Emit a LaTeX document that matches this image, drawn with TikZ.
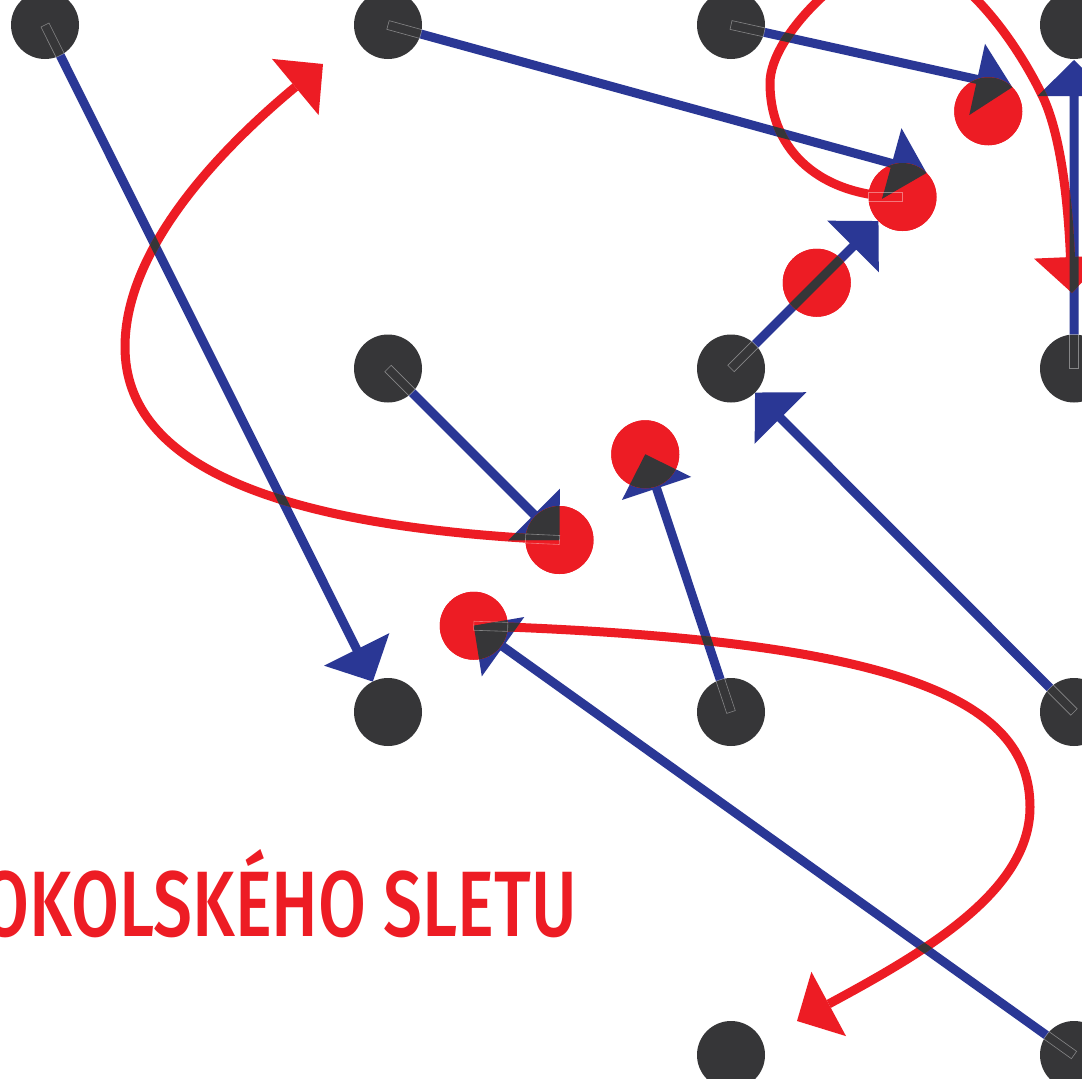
\documentclass[tikz,border=0pt]{standalone}
\usepackage{fontspec}
\usepackage{graphicx}
\usetikzlibrary{calc}
\newfontfamily\titlefont{Fira Sans}[UprightFont={* Medium}]
\definecolor{sblue}{HTML}{2A3795}
\definecolor{sred}{HTML}{ED1C24}
\definecolor{sdark}{HTML}{363638}
% blue arrow as one polygon: name, start, tip
\newcommand\mkarrow[3]{%
  \coordinate (#1-s) at (#2);
  \coordinate (#1-t) at (#3);
  \coordinate (#1-m) at ($(#1-t)!36pt!(#1-s)$);
  \coordinate (#1-a1) at ($(#1-s)!4.5pt!90:(#1-t)$);
  \coordinate (#1-a2) at ($(#1-s)!4.5pt!-90:(#1-t)$);
  \coordinate (#1-m1) at ($(#1-m)!4.5pt!90:(#1-t)$);
  \coordinate (#1-m2) at ($(#1-m)!4.5pt!-90:(#1-t)$);
  \coordinate (#1-b1) at ($(#1-m)!36.5pt!90:(#1-t)$);
  \coordinate (#1-b2) at ($(#1-m)!36.5pt!-90:(#1-t)$);
}
\newcommand\arrowshape[1]{(#1-a1) -- (#1-m1) -- (#1-b1) -- (#1-t) -- (#1-b2) -- (#1-m2) -- (#1-a2) -- cycle}
% red arrow tip: name, last control point, tip
\newcommand\mktip[3]{%
  \coordinate (#1-t) at (#3);
  \coordinate (#1-m) at ($(#1-t)!36pt!(#2)$);
  \coordinate (#1-b1) at ($(#1-m)!36.5pt!90:(#1-t)$);
  \coordinate (#1-b2) at ($(#1-m)!36.5pt!-90:(#1-t)$);
}
\newcommand\tipshape[1]{(#1-b1) -- (#1-t) -- (#1-b2) -- cycle}
\newcommand\curveA{(r5.center) .. controls (280,527) and (125,467) .. (125,347) .. controls (125,247) and (223,147) .. (tA-m)}
\newcommand\curveB{(r6.center) .. controls (894,639.6) and (1030,697) .. (1030,807) .. controls (1030,890) and (929,950) .. (tB-m)}
\newcommand\curveC{(r2.center) .. controls (823,197) and (770,153) .. (770,83) .. controls (770,33) and (857,-45) .. (897,-45) .. controls (947,-45) and (1006.8,23) .. (1042,95) .. controls (1064,140) and (1069,223) .. (tC-m)}
\newcommand\redstuff[1]{%
  \draw[redline,draw=#1] \curveA;
  \draw[redline,draw=#1] \curveB;
  \draw[redline,draw=#1] \curveC;
  \fill[#1] \tipshape{tA};
  \fill[#1] \tipshape{tB};
  \fill[#1] \tipshape{tC};
  \foreach \k in {1,...,6} \fill[#1] (rc\k) circle[radius=34pt];
}
\newcommand\seam[2]{%
  \coordinate (sS) at (#1);
  \coordinate (sE) at ($(sS)!34pt!(#2)$);
  \draw[seamline] ($(sS)!4.5pt!90:(sE)$) -- ($(sE)!4.5pt!-90:(sS)$) -- ($(sE)!4.5pt!90:(sS)$) -- ($(sS)!4.5pt!-90:(sE)$) -- cycle;
}
\begin{document}
\begin{tikzpicture}[x=1pt,y=-1pt,
  darkdot/.style={circle,fill=sdark,minimum size=68pt,inner sep=0pt,outer sep=0pt},
  reddot/.style={circle,fill=sred,minimum size=68pt,inner sep=0pt,outer sep=0pt},
  redline/.style={line width=9pt,line cap=butt},
  seamline/.style={draw=white,draw opacity=0.4,line width=0.6pt},
  title/.style={text=sred,inner sep=0pt,outer sep=0pt,anchor=base west}]
\useasboundingbox (0,0) rectangle (1082,1079);
\fill[white] (0,0) rectangle (1082,1079);
% grid of dark dots
\coordinate (c11) at (45,25);   \coordinate (c12) at (388,25);
\coordinate (c13) at (731,25);  \coordinate (c14) at (1074,25);
\coordinate (c22) at (388,368.5); \coordinate (c23) at (731,368.5);
\coordinate (c24) at (1074,368.5);
\coordinate (c32) at (388,712); \coordinate (c33) at (731,712);
\coordinate (c34) at (1074,712);
\coordinate (c43) at (731,1055); \coordinate (c44) at (1074,1055);
% red dots on the diagonal
\coordinate (rc1) at (988.25,111.25);
\coordinate (rc2) at (902.5,197);
\coordinate (rc3) at (816.75,282.75);
\coordinate (rc4) at (645.25,454.25);
\coordinate (rc5) at (559.5,540);
\coordinate (rc6) at (473.75,625.75);
% blue arrows
\mkarrow{bA}{c11}{$(c32)!34pt!(c11)$}
\mkarrow{bB}{c12}{$(rc2)+(24.04,-24.04)$}
\mkarrow{bC}{c13}{$(rc1)+(24.04,-24.04)$}
\mkarrow{bD}{c24}{1074,60}
\mkarrow{bE}{c23}{$(rc2)+(-24.04,24.04)$}
\mkarrow{bF}{c34}{$(c23)+(24.04,24.04)$}
\mkarrow{bG}{c22}{rc5}
\mkarrow{bH}{c33}{rc4}
\mkarrow{bI}{c44}{rc6}
% red tips
\mktip{tA}{223,147}{323,64}
\mktip{tB}{929,950}{797,1021}
\mktip{tC}{1069,223}{1072,293}
% draw blue
\foreach \b in {bA,bB,bC,bD,bE,bF,bG,bH,bI} \fill[sblue] \arrowshape{\b};
% red dots and curves
\foreach \k in {1,...,6} \node[reddot] (r\k) at (rc\k) {};
\redstuff{sred}
% overlaps blue x red in dark
\foreach \b in {bA,bB,bC,bD,bE,bF,bG,bH,bI}{
  \begin{scope}
    \clip \arrowshape{\b};
    \redstuff{sdark}
  \end{scope}
}
% dark dots
\node[darkdot] (d11) at (c11) {};
\node[darkdot] (d12) at (c12) {};
\node[darkdot] (d13) at (c13) {};
\node[darkdot] (d14) at (c14) {};
\node[darkdot] (d22) at (c22) {};
\node[darkdot] (d23) at (c23) {};
\node[darkdot] (d24) at (c24) {};
\node[darkdot] (d32) at (c32) {};
\node[darkdot] (d33) at (c33) {};
\node[darkdot] (d34) at (c34) {};
\node[darkdot] (d43) at (c43) {};
\node[darkdot] (d44) at (c44) {};
% faint seams at line starts
\foreach \b in {bA,bB,bC,bD,bE,bF,bG,bH,bI} {\seam{\b-s}{\b-t}}
\seam{rc5}{280,527}
\seam{rc6}{894,639.6}
\seam{rc2}{823,197}
% title
\node[title] (ttl) at (-18,936) {\resizebox{595pt}{\height}{\titlefont\fontsize{93pt}{93pt}\selectfont OKOLSKÉHO SLETU}};
\end{tikzpicture}
\end{document}
